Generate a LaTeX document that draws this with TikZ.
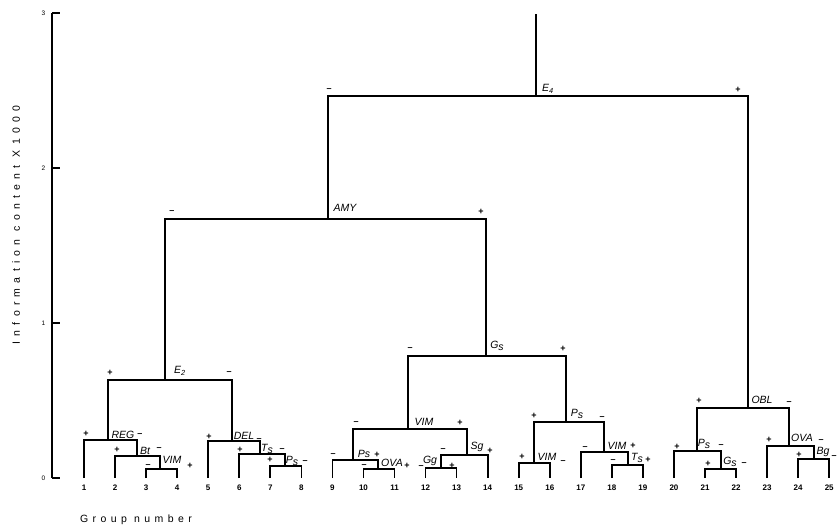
\documentclass[tikz,border=0pt]{standalone}
\usepackage{fontspec}
\setmainfont{Liberation Sans}
\newfontfamily\spacedfont[LetterSpace=50]{Liberation Sans}
\newfontfamily\groupfont[LetterSpace=42]{Liberation Sans}

\newcommand\lows[1]{\raisebox{-1.8pt}{#1}}

\tikzset{
  branch/.style={line width=1.7pt, line join=miter},
  axisline/.style={line width=1.5pt},
  lbl/.style={font={\itshape\fontsize{10.5}{10.5}\selectfont}, inner sep=0pt},
  sgn/.style={font={\bfseries\fontsize{9}{9}\selectfont}, inner sep=0pt},
  leafnum/.style={font={\bfseries\fontsize{8}{8}\selectfont}, inner sep=0pt},
  ticklbl/.style={font={\fontsize{6.5}{6.5}\selectfont}, inner sep=0pt}
}

\begin{document}
\begin{tikzpicture}[x=1pt, y=-1pt]

\useasboundingbox (0,0) rectangle (837,530);

% axis
\coordinate (ax3) at (52,13);
\coordinate (ax0) at (52,478);
\draw[axisline] (ax3) -- (ax0);

\foreach \v/\yy in {3/13,2/168,1/323,0/478}{
  \draw[axisline] (52,\yy) -- (60,\yy);
  \node[ticklbl] (tick\v) at (43.5,\yy) {\v};
}

\node[rotate=90, font={\spacedfont\fontsize{10.5}{10.5}\selectfont}] (ytitle)
 at (16,225) {Information content X1000};

\node[font={\groupfont\fontsize{10.5}{10.5}\selectfont}] (xtitle)
 at (136,520) {Group number};


% leaves
\foreach \i in {1,...,25}{
  \coordinate (l\i) at ({84+(\i-1)*31.05},478);
  \node[leafnum] (n\i) at ({84+(\i-1)*31.05},488) {\i};
}


% junctions
\coordinate (top)  at (536,14);
\coordinate (e4)   at (536,96);
\coordinate (amy)  at (328,219);
\coordinate (obl)  at (748,408);
\coordinate (e2)   at (165,380);
\coordinate (gs)   at (486,356);
\coordinate (reg)  at (108,440);
\coordinate (bt)   at (137,456);
\coordinate (vima) at (160,469);
\coordinate (del)  at (232,441);
\coordinate (tsa)  at (260,454);
\coordinate (psa)  at (285,466);
\coordinate (vimb) at (408,429);
\coordinate (psc)  at (353,460);
\coordinate (ova)  at (378,469);
\coordinate (sg)   at (467,455);
\coordinate (gg)   at (441,468);
\coordinate (psb)  at (566,422);
\coordinate (vimc) at (534,463);
\coordinate (vimd) at (604,452);
\coordinate (tsb)  at (628,465);
\coordinate (psd)  at (697,451);
\coordinate (gsb)  at (721,469);
\coordinate (ovab) at (789,446);
\coordinate (bg)   at (814,459);


\draw[branch] (top) -- (e4);
\draw[branch] (amy) |- (e4) -| (obl);
\draw[branch] (e2) |- (amy) -| (gs);
\draw[branch] (reg) |- (e2) -| (del);
\draw[branch] (l1) |- (reg) -| (bt);
\draw[branch] (l2) |- (bt) -| (vima);
\draw[branch] (l3) |- (vima) -| (l4);
\draw[branch] (l5) |- (del) -| (tsa);
\draw[branch] (l6) |- (tsa) -| (psa);
\draw[branch] (l7) |- (psa) -| (l8);
\draw[branch] (vimb) |- (gs) -| (psb);
\draw[branch] (psc) |- (vimb) -| (sg);
\draw[branch] (l9) |- (psc) -| (ova);
\draw[branch] (l10) |- (ova) -| (l11);
\draw[branch] (gg) |- (sg) -| (l14);
\draw[branch] (l12) |- (gg) -| (l13);
\draw[branch] (vimc) |- (psb) -| (vimd);
\draw[branch] (l15) |- (vimc) -| (l16);
\draw[branch] (l17) |- (vimd) -| (tsb);
\draw[branch] (l18) |- (tsb) -| (l19);
\draw[branch] (psd) |- (obl) -| (ovab);
\draw[branch] (l20) |- (psd) -| (gsb);
\draw[branch] (l21) |- (gsb) -| (l22);
\draw[branch] (l23) |- (ovab) -| (bg);
\draw[branch] (l24) |- (bg) -| (l25);


% labels and signs
\node[lbl] (e4-t) at (548,89) {E\textsubscript{4}};
\node[sgn] (e4-l) at (329,90) {--};
\node[sgn] (e4-r) at (738,90) {+};

\node[lbl] (amy-t) at (345,208) {AMY};
\node[sgn] (amy-l) at (172,212) {--};
\node[sgn] (amy-r) at (481,212) {+};

\node[lbl] (e2-t) at (180,371) {E\textsubscript{2}};
\node[sgn] (e2-l) at (110,373) {+};
\node[sgn] (e2-r) at (229,373) {--};

\node[lbl] (gs-t) at (497,346) {G\lows{s}};
\node[sgn] (gs-l) at (410,349) {--};
\node[sgn] (gs-r) at (563,349) {+};

\node[lbl] (obl-t) at (762,400) {OBL};
\node[sgn] (obl-l) at (699,401) {+};
\node[sgn] (obl-r) at (789,403) {--};

\node[lbl] (reg-t) at (123,435) {REG};
\node[sgn] (reg-l) at (86,434) {+};
\node[sgn] (reg-r) at (140,435) {--};

\node[lbl] (bt-t) at (145,451) {Bt};
\node[sgn] (bt-l) at (117,450) {+};
\node[sgn] (bt-r) at (159,449) {--};

\node[lbl] (vima-t) at (172,460) {VIM};
\node[sgn] (vima-l) at (148,466) {--};
\node[sgn] (vima-r) at (190,466) {+};

\node[lbl] (del-t) at (244,436) {DEL};
\node[sgn] (del-l) at (209,437) {+};
\node[sgn] (del-r) at (259,440) {--};

\node[lbl] (tsa-t) at (267,449) {T\lows{s}};
\node[sgn] (tsa-l) at (240,450) {+};
\node[sgn] (tsa-r) at (282,450) {--};

\node[lbl] (psa-t) at (292,461) {P\lows{s}};
\node[sgn] (psa-l) at (270,460) {+};
\node[sgn] (psa-r) at (305,462) {--};

\node[lbl] (vimb-t) at (424,422) {VIM};
\node[sgn] (vimb-l) at (356,423) {--};
\node[sgn] (vimb-r) at (460,423) {+};

\node[lbl] (psc-t) at (364,454) {Ps};
\node[sgn] (psc-l) at (333,455) {--};
\node[sgn] (psc-r) at (377,455) {+};

\node[lbl] (ova-t) at (392,463) {OVA};
\node[sgn] (ova-l) at (364,466) {--};
\node[sgn] (ova-r) at (407,466) {+};

\node[lbl] (sg-t) at (477,447) {Sg};
\node[sgn] (sg-l) at (443,450) {--};
\node[sgn] (sg-r) at (490,451) {+};

\node[lbl] (gg-t) at (430,461) {Gg};
\node[sgn] (gg-l) at (421,467) {--};
\node[sgn] (gg-r) at (452,466) {+};

\node[lbl] (psb-t) at (577,414) {P\lows{s}};
\node[sgn] (psb-l) at (534,416) {+};
\node[sgn] (psb-r) at (602,418) {--};

\node[lbl] (vimc-t) at (547,457) {VIM};
\node[sgn] (vimc-l) at (522,457) {+};
\node[sgn] (vimc-r) at (563,462) {--};

\node[lbl] (vimd-t) at (617,446) {VIM};
\node[sgn] (vimd-l) at (585,448) {--};
\node[sgn] (vimd-r) at (633,446) {+};

\node[lbl] (tsb-t) at (637,458) {T\lows{s}};
\node[sgn] (tsb-l) at (613,461) {--};
\node[sgn] (tsb-r) at (648,460) {+};

\node[lbl] (psd-t) at (704,444) {P\lows{s}};
\node[sgn] (psd-l) at (677,447) {+};
\node[sgn] (psd-r) at (721,446) {--};

\node[lbl] (gsb-t) at (730,462) {G\lows{s}};
\node[sgn] (gsb-l) at (708,464) {+};
\node[sgn] (gsb-r) at (744,464) {--};

\node[lbl] (ovab-t) at (802,438) {OVA};
\node[sgn] (ovab-l) at (769,440) {+};
\node[sgn] (ovab-r) at (821,441) {--};

\node[lbl] (bg-t) at (823,452) {Bg};
\node[sgn] (bg-l) at (799,455) {+};
\node[sgn] (bg-r) at (834,457) {--};

\end{tikzpicture}
\end{document}
